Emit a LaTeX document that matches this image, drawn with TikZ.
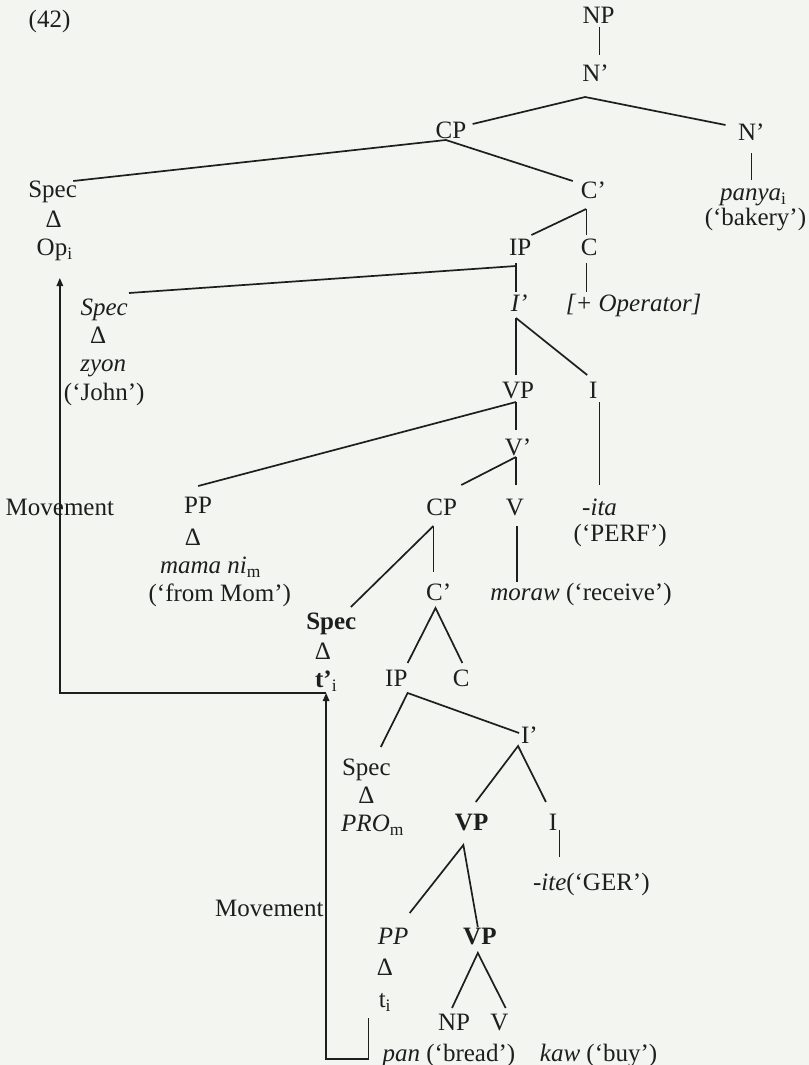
\documentclass[tikz,border=0pt]{standalone}
\usepackage{fontspec}
\setmainfont{Liberation Serif}
\usetikzlibrary{arrows.meta}
\definecolor{bg}{RGB}{243,245,241}
\definecolor{ink}{RGB}{30,30,30}
\begin{document}
\begin{tikzpicture}[x=1.032pt,y=-1pt,
  lab/.style={inner sep=0pt, anchor=base, yshift=-8.3pt, font=\fontsize{25}{30}\selectfont, text=ink},
  branch/.style={draw=ink, line width=1.7pt},
  stem/.style={draw=ink, line width=1.3pt},
  movepath/.style={draw=ink, line width=1.3pt, -{Triangle[length=8pt,width=6.5pt]}},
]
\fill[bg] (0,0) rectangle (783.9,1065);
\useasboundingbox (0,0) rectangle (783.9,1065);

% ---------- labels ----------
\node[lab] (ex) at (48,19) {(42)};
\node[lab] (np) at (580,15) {NP};
\node[lab] (nbarA) at (577,73) {N’};
\node[lab] (cpA) at (437,130) {CP};
\node[lab] (nbarB) at (728,132) {N’};
\node[lab] (panya) at (730,192) {\textit{panya}\textsubscript{i}};
\node[lab] (bakery) at (732,217) {(‘bakery’)};
\node[lab] (specA) at (51,189) {Spec};
\node[lab] (deltaA) at (52,219) {Δ};
\node[lab] (op) at (53,247) {Op\textsubscript{i}};
\node[lab] (cbarA) at (575,190) {C’};
\node[lab] (ipA) at (504,247) {IP};
\node[lab] (cA) at (571,247) {C};
\node[lab] (specB) at (101,307) {\textit{Spec}};
\node[lab] (deltaB) at (95,335) {Δ};
\node[lab] (zyon) at (100,363) {\textit{zyon}};
\node[lab] (john) at (101,392) {(‘John’)};
\node[lab] (ibarA) at (503,303) {\textit{I’}};
\node[lab] (oper) at (614,303) {\textit{[+ Operator]}};
\node[lab] (vpA) at (502,390) {VP};
\node[lab] (iA) at (575,390) {I};
\node[lab] (vbar) at (502,447) {V’};
\node[lab] (movA) at (58,507) {Movement};
\node[lab] (ppA) at (192,505) {PP};
\node[lab] (deltaC) at (187,537) {Δ};
\node[lab] (mama) at (204,565) {\textit{mama ni}\textsubscript{m}};
\node[lab] (mom) at (213,593) {(‘from Mom’)};
\node[lab] (cpB) at (428,507) {CP};
\node[lab] (vA) at (499,507) {V};
\node[lab] (ita) at (581,507) {-\textit{ita}};
\node[lab] (perf) at (601,533) {(‘PERF’)};
\node[lab] (cbarB) at (425,592) {C’};
\node[lab] (moraw) at (563,592) {\textit{moraw} (‘receive’)};
\node[lab] (specC) at (321,621) {\textbf{Spec}};
\node[lab] (deltaD) at (313,651) {Δ};
\node[lab] (tprime) at (316,679) {\textbf{t’}\textsubscript{i}};
\node[lab] (ipB) at (384,678) {IP};
\node[lab] (cB) at (447,678) {C};
\node[lab] (ibarB) at (513,735) {I’};
\node[lab] (specD) at (355,767) {Spec};
\node[lab] (deltaE) at (355,795) {Δ};
\node[lab] (pro) at (361,823) {\textit{PRO}\textsubscript{m}};
\node[lab] (vpB) at (457,822) {\textbf{VP}};
\node[lab] (iB) at (536,822) {I};
\node[lab] (ger) at (573,882) {-\textit{ite}(‘GER’)};
\node[lab] (movB) at (261,908) {Movement};
\node[lab] (ppB) at (381,936) {\textit{PP}};
\node[lab] (vpC) at (465,936) {\textbf{VP}};
\node[lab] (deltaF) at (373,967) {Δ};
\node[lab] (ti) at (373,999) {t\textsubscript{i}};
\node[lab] (npB) at (440,1022) {NP};
\node[lab] (vB) at (484,1022) {V};
\node[lab] (pan) at (435,1053) {\textit{pan} (‘bread’)};
\node[lab] (kaw) at (580,1053) {\textit{kaw} (‘buy’)};

% ---------- branch points ----------
\coordinate (np-b) at (581,27);   \coordinate (nbarA-t) at (581,55);
\coordinate (nbarA-f) at (567,97); \coordinate (cpA-t) at (458,124); \coordinate (nbarB-t) at (703,125);
\coordinate (nbarB-b) at (728,153); \coordinate (panya-t) at (728,180);
\coordinate (cpA-f) at (432,140); \coordinate (specA-t) at (71,181); \coordinate (cbarA-t) at (555,181);
\coordinate (cbarA-f) at (568,209); \coordinate (ipA-t) at (515,235); \coordinate (cA-t) at (568,235);
\coordinate (ipA-b) at (500,263); \coordinate (ipA-f) at (500,266); \coordinate (ibarA-t) at (500,292); \coordinate (specB-t) at (125,293);
\coordinate (cA-b) at (568,263); \coordinate (oper-t) at (568,292);
\coordinate (ibarA-f) at (500,318); \coordinate (vpA-t) at (500,375); \coordinate (iA-t) at (569,375);
\coordinate (iA-b) at (581,402); \coordinate (ita-t) at (581,485);
\coordinate (vpA-f) at (500,402); \coordinate (ppA-t) at (192,486); \coordinate (vbar-t) at (500,430);
\coordinate (vbar-f) at (500,457); \coordinate (cpB-t) at (447,485); \coordinate (vA-t) at (500,485);
\coordinate (cpB-f) at (420,526); \coordinate (specC-t) at (340,607); \coordinate (cbarB-t) at (420,572);
\coordinate (vA-b) at (501,526); \coordinate (moraw-t) at (501,582);
\coordinate (cbarB-f) at (422,608); \coordinate (ipB-t) at (395,663); \coordinate (cB-t) at (448,663);
\coordinate (ipB-f) at (395,693); \coordinate (specD-t) at (369,747); \coordinate (ibarB-t) at (503,733);
\coordinate (ibarB-f) at (502,746); \coordinate (vpB-t) at (461,802); \coordinate (iB-t) at (529,802);
\coordinate (iB-b) at (542,830); \coordinate (ger-t) at (542,857);
\coordinate (vpB-f) at (449,845); \coordinate (ppB-t) at (397,913); \coordinate (vpC-t) at (463,927);
\coordinate (vpC-f) at (463,953); \coordinate (npB-t) at (438,1008); \coordinate (vB-t) at (490,1008);

% ---------- tree lines ----------
\draw[stem] (np-b) -- (nbarA-t);
\draw[branch] (cpA-t) -- (nbarA-f) -- (nbarB-t);
\draw[stem] (nbarB-b) -- (panya-t);
\draw[branch] (specA-t) -- (cpA-f) -- (cbarA-t);
\draw[branch] (ipA-t) -- (cbarA-f);
\draw[stem] (cbarA-f) -- (cA-t);
\draw[stem] (ipA-b) -- (ibarA-t);
\draw[branch] (ipA-f) -- (specB-t);
\draw[stem] (cA-b) -- (oper-t);
\draw[stem] (ibarA-f) -- (vpA-t);
\draw[branch] (ibarA-f) -- (iA-t);
\draw[stem] (iA-b) -- (ita-t);
\draw[branch] (vpA-f) -- (ppA-t);
\draw[stem] (vpA-f) -- (vbar-t);
\draw[branch] (vbar-f) -- (cpB-t);
\draw[stem] (vbar-f) -- (vA-t);
\draw[branch] (cpB-f) -- (specC-t);
\draw[stem] (cpB-f) -- (cbarB-t);
\draw[stem] (vA-b) -- (moraw-t);
\draw[branch] (ipB-t) -- (cbarB-f) -- (cB-t);
\draw[branch] (specD-t) -- (ipB-f) -- (ibarB-t);
\draw[branch] (vpB-t) -- (ibarB-f) -- (iB-t);
\draw[stem] (iB-b) -- (ger-t);
\draw[branch] (ppB-t) -- (vpB-f) -- (vpC-t);
\draw[branch] (npB-t) -- (vpC-f) -- (vB-t);

% ---------- movement arrows ----------
\coordinate (trace-b) at (357,1018);
\coordinate (trace-c1) at (357,1059);
\coordinate (trace-c2) at (316,1059);
\coordinate (tprime-b) at (316,693);
\coordinate (move-c) at (58,693);
\coordinate (op-b) at (58,278);
\draw[movepath] (trace-b) -- (trace-c1) -- (trace-c2) -- (tprime-b);
\draw[movepath] (tprime-b) -- (move-c) -- (op-b);
\end{tikzpicture}
\end{document}
